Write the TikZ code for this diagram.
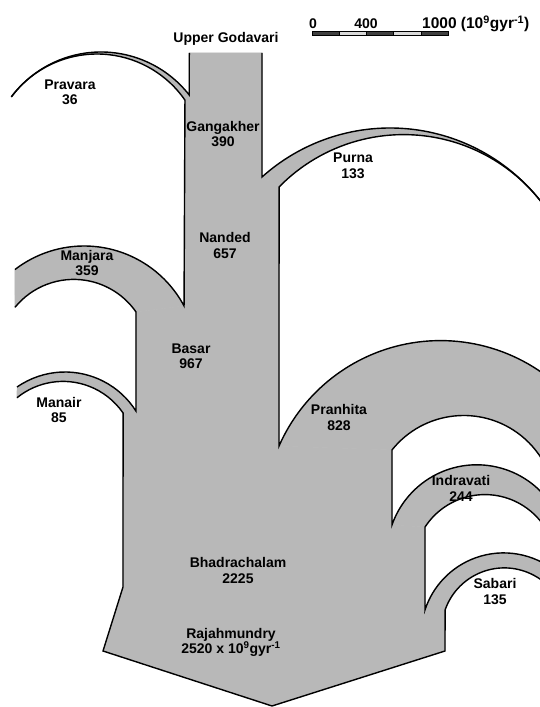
\documentclass[tikz,border=0pt]{standalone}
\usepackage{fontspec}
\setmainfont{Liberation Sans}
\usetikzlibrary{calc}
\begin{document}
\begin{tikzpicture}[x=1pt,y=1pt,
  riverfill/.style={fill=black!28,draw=black!28,line width=0.6pt},
  edge/.style={draw=black,line width=1.4pt,line join=miter},
  lbl/.style={font=\fontsize{14}{15.5}\selectfont\bfseries,align=center,inner sep=0pt}]
\useasboundingbox (0,0) rectangle (540,707);
\clip (0,0) rectangle (540,707);
% circle centres
\coordinate (cPo) at (101,543);
\coordinate (cPi) at (97,546);
\coordinate (cPuo) at (390,387.3);
\coordinate (cPui) at (403.6,398.1);
\coordinate (cMjo) at (84.1,347.7);
\coordinate (cMji) at (73.75,351.8);
\coordinate (cMno) at (65,251);
\coordinate (cMni) at (63,252.7);
\coordinate (cSbo) at (503.6,71.4);
\coordinate (cSbi) at (504.3,76.4);
\coordinate (cIno) at (476.8,152.3);
\coordinate (cIni) at (484.9,140.9);
\coordinate (cPho) at (440.5,190);
\coordinate (cPhi) at (463.7,199.6);
% joins
\coordinate (jPo) at ($(cPo)+(38:112)$);
\coordinate (jPi) at ($(cPi)+(34.7:107)$);
\coordinate (tPr) at ($(cPi)+(143.2:107)$);
\coordinate (jPuo) at ($(cPuo)+(131.9:191.7)$);
\coordinate (jPui) at ($(cPui)+(135.6:174.3)$);
\coordinate (jMjo) at ($(cMjo)+(28.1:113.3)$);
\coordinate (jMji) at ($(cMji)+(34.8:75.8)$);
\coordinate (jMno) at ($(cMno)+(32.3:84)$);
\coordinate (jMni) at ($(cMni)+(34.5:72.9)$);
\coordinate (jPho) at ($(cPho)+(156.3:176.4)$);
\coordinate (jPhi) at ($(cPhi)+(141.3:91.9)$);
\coordinate (jIno) at ($(cIno)+(160.7:89.9)$);
\coordinate (jIni) at ($(cIni)+(146.9:71.5)$);
\coordinate (jSbo) at ($(cSbo)+(162:82.7)$);
\coordinate (jSbi) at ($(cSbi)+(160.8:62.7)$);
\coordinate (tl) at (189.3,654);
\coordinate (tr) at (262,654);
\coordinate (lk) at (123,120);
\coordinate (lb) at (103,56);
\coordinate (ap) at (272,1);
\coordinate (rb) at (445,56);
% fills
\fill[riverfill] (tl) -- (tr) -- (jPuo) -- (jPui) -- (jPho) -- (jPhi) -- (jIno) -- (jIni) -- (jSbo) -- (jSbi) -- (rb) -- (ap) -- (lb) -- (lk) -- (jMni) -- (jMno) -- (jMji) -- (jMjo) -- (jPi) -- (jPo) -- cycle;
\fill[riverfill] (jPo) arc[start angle=38,end angle=143.2,radius=112] -- (tPr) arc[start angle=143.2,end angle=34.7,radius=107] -- cycle;
\fill[riverfill] (jPuo) arc[start angle=131.9,end angle=35,radius=191.7] -- ($(cPui)+(35:174.3)$) arc[start angle=35,end angle=135.6,radius=174.3] -- cycle;
\fill[riverfill] (jPho) arc[start angle=156.3,end angle=45,radius=176.4] -- ($(cPhi)+(25:91.9)$) arc[start angle=25,end angle=141.3,radius=91.9] -- cycle;
\fill[riverfill] (jIno) arc[start angle=160.7,end angle=35,radius=89.9] -- ($(cIni)+(30:71.5)$) arc[start angle=30,end angle=146.9,radius=71.5] -- cycle;
\fill[riverfill] (jSbo) arc[start angle=162,end angle=50,radius=82.7] -- ($(cSbi)+(45:62.7)$) arc[start angle=45,end angle=160.8,radius=62.7] -- cycle;
\fill[riverfill] (jMjo) arc[start angle=28.1,end angle=127.6,radius=113.3] -- ($(cMji)+(140.8:75.8)$) arc[start angle=140.8,end angle=34.8,radius=75.8] -- cycle;
\fill[riverfill] (jMno) arc[start angle=32.3,end angle=124.8,radius=84] -- ($(cMni)+(129.1:72.9)$) arc[start angle=129.1,end angle=34.5,radius=72.9] -- cycle;
% outlines
\draw[edge] (tl) -- (jPo) arc[start angle=38,end angle=143.2,radius=112];
\draw[edge] (tPr) arc[start angle=143.2,end angle=34.7,radius=107] -- (jMjo) arc[start angle=28.1,end angle=127.6,radius=113.3];
\draw[edge] ($(cMji)+(140.8:75.8)$) arc[start angle=140.8,end angle=34.8,radius=75.8] -- (jMno) arc[start angle=32.3,end angle=124.8,radius=84];
\draw[edge] ($(cMni)+(129.1:72.9)$) arc[start angle=129.1,end angle=34.5,radius=72.9] -- (lk) -- (lb) -- (ap) -- (rb) -- (jSbi) arc[start angle=160.8,end angle=45,radius=62.7];
\draw[edge] ($(cSbo)+(50:82.7)$) arc[start angle=50,end angle=162,radius=82.7] -- (jIni) arc[start angle=146.9,end angle=30,radius=71.5];
\draw[edge] ($(cIno)+(35:89.9)$) arc[start angle=35,end angle=160.7,radius=89.9] -- (jPhi) arc[start angle=141.3,end angle=25,radius=91.9];
\draw[edge] ($(cPho)+(45:176.4)$) arc[start angle=45,end angle=156.3,radius=176.4] -- (jPui) arc[start angle=135.6,end angle=35,radius=174.3];
\draw[edge] ($(cPuo)+(35:191.7)$) arc[start angle=35,end angle=131.9,radius=191.7] -- (tr);
% labels
\node[lbl] (upper) at (226,668.5) {Upper Godavari};
\node[lbl] (pravara) at (70,614.5) {Pravara\\36};
\node[lbl] (gangakher) at (223,573) {Gangakher\\390};
\node[lbl] (purna) at (353,541) {Purna\\133};
\node[lbl] (nanded) at (225,461.5) {Nanded\\657};
\node[lbl] (manjara) at (87,444) {Manjara\\359};
\node[lbl] (basar) at (191,350.5) {Basar\\967};
\node[lbl] (manair) at (59,297) {Manair\\85};
\node[lbl] (pranhita) at (339,289.5) {Pranhita\\828};
\node[lbl] (indravati) at (461,218.5) {Indravati\\244};
\node[lbl] (sabari) at (495,115.5) {Sabari\\135};
\node[lbl] (bhadra) at (238,136.5) {Bhadrachalam\\2225};
\node[lbl] (rajah) at (231,64.5) {Rajahmundry\\2520 x 10\textsuperscript{9}gyr\textsuperscript{-1}};
% scale bar
\node[lbl] (s0) at (313,683) {0};
\node[lbl] (s400) at (366,683) {400};
\node[lbl,anchor=west,font=\fontsize{15.5}{17}\selectfont\bfseries] (s1000) at (422,683) {1000 (10\textsuperscript{9}gyr\textsuperscript{-1})};
\foreach \i/\c in {0/black!75,1/black!15,2/black!75,3/black!15,4/black!75}{
  \draw[fill=\c,line width=0.6pt] ({312+27.2*\i},672) rectangle ({312+27.2*(\i+1)},675.5);
}
\end{tikzpicture}
\end{document}
